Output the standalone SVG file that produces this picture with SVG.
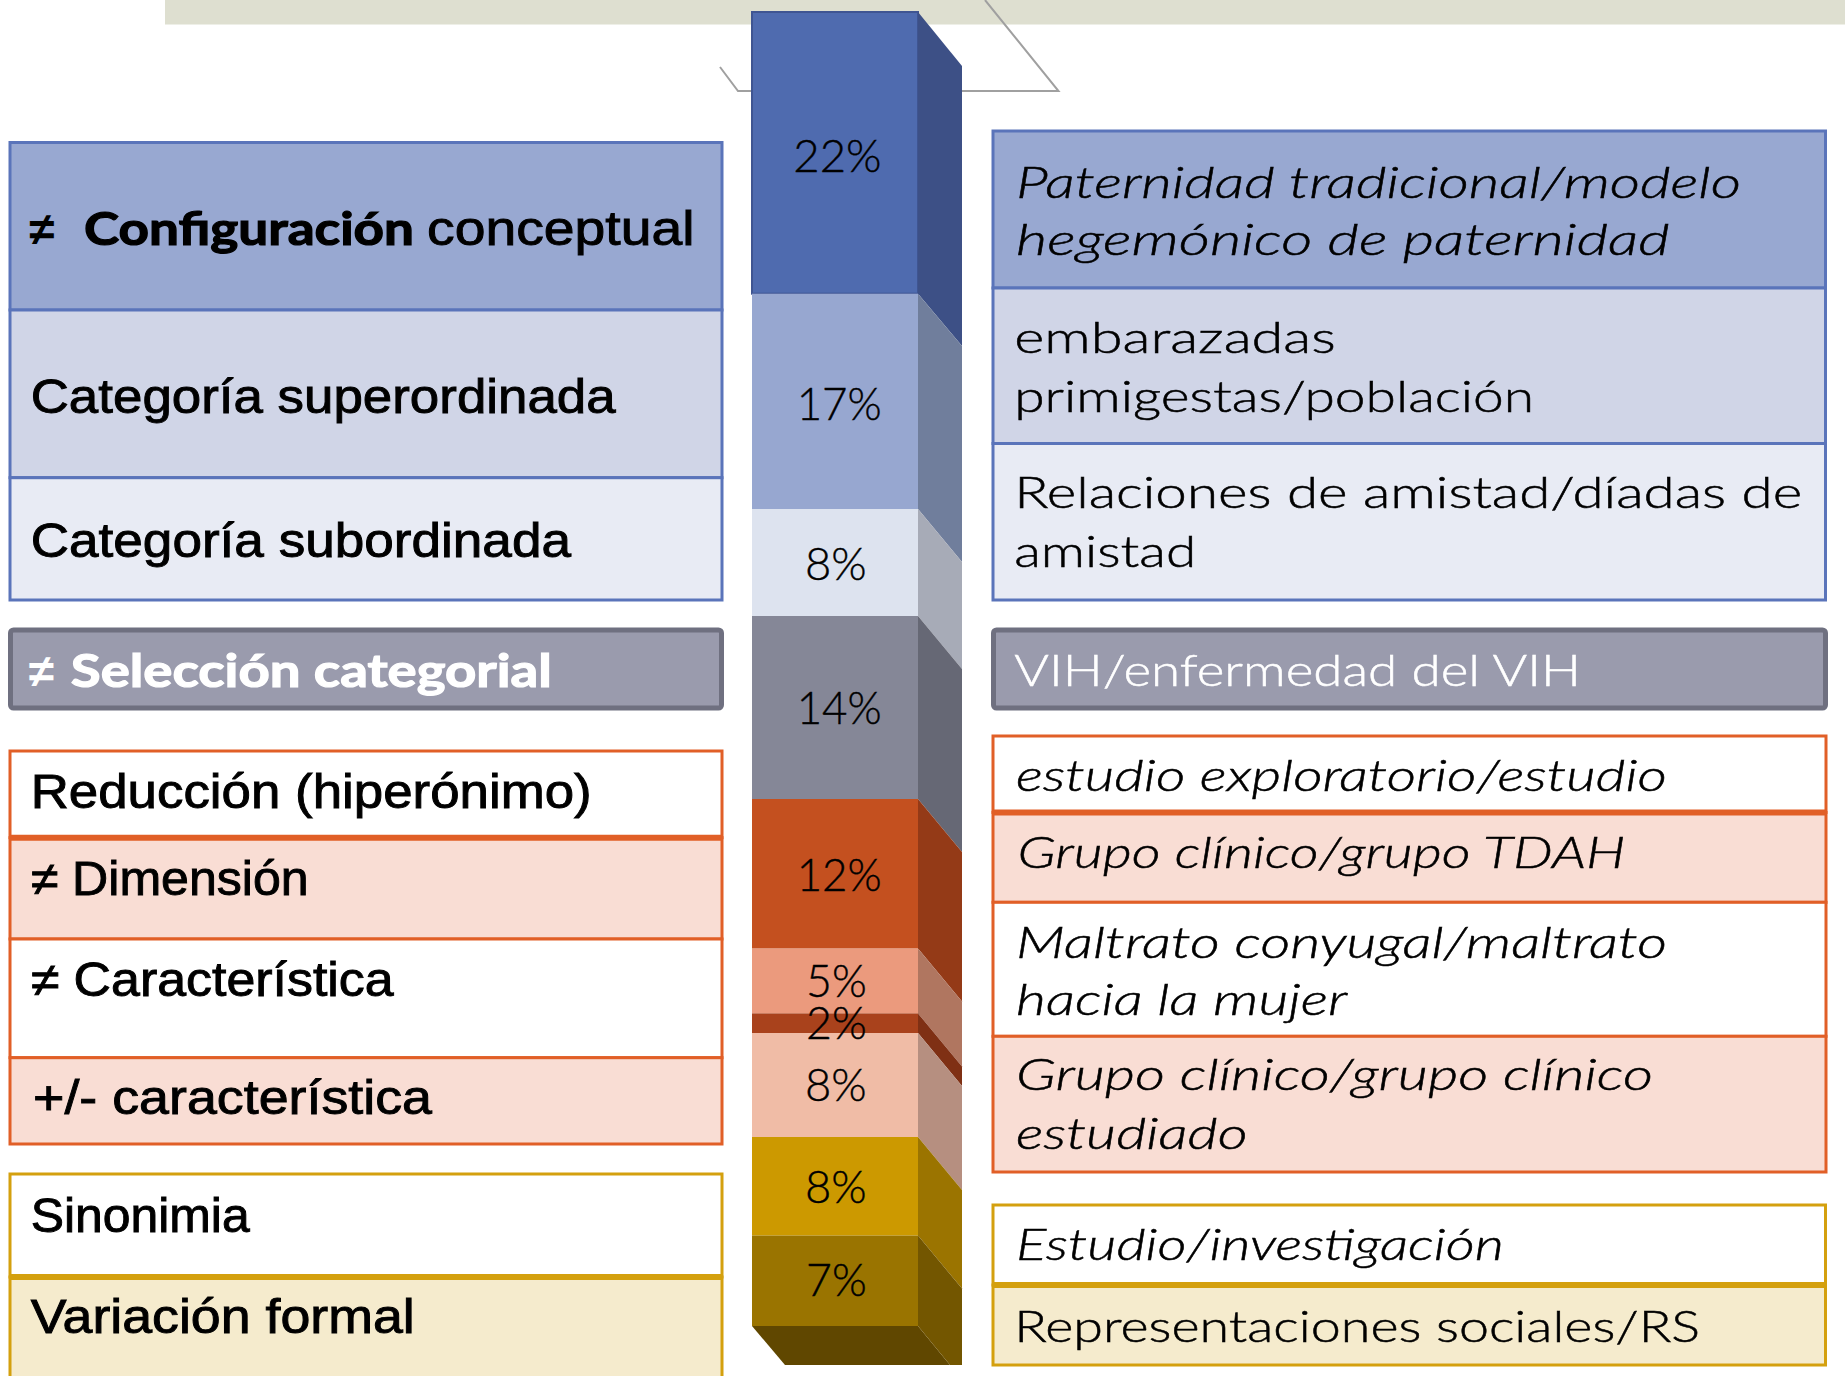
<svg xmlns="http://www.w3.org/2000/svg" width="1845" height="1376" viewBox="0 0 1845 1376">
<style>
.lbl{font-family:"Liberation Sans",Arial,sans-serif;font-size:47.5px;fill:#000;stroke:#000;stroke-width:0.9}
.bold{font-family:Lato,"Open Sans",sans-serif;font-weight:700;font-size:46px;stroke-width:1.2}
.neq{font-family:"Liberation Sans",Arial,sans-serif;font-weight:700;font-size:46px;fill:#000}
.rt{font-family:Lato,"Open Sans",sans-serif;font-weight:300;font-size:44px;fill:#000;stroke:#000;stroke-width:0.5}
.it{font-style:italic}
.wh{fill:#fff;stroke:#fff}
.pct{font-family:Lato,"Open Sans",sans-serif;font-size:46px;font-weight:300;fill:#000;stroke:#000;stroke-width:0.4}
.bl{stroke:#5a74ba;stroke-width:3}
.or{stroke:#e15f27;stroke-width:3}
.gd{stroke:#d4a00e;stroke-width:3}
.gr{fill:#9a9bad;stroke:#6f7080;stroke-width:5}
.thick-or{stroke:#e15f27;stroke-width:6}
.thick-gd{stroke:#d4a00e;stroke-width:6}
</style>
<rect width="1845" height="1376" fill="#fff"/>
<rect id="banner" x="165" y="0" width="1680" height="24.5" fill="#dedfd0"/>
<g id="connectors">
<polyline points="720,67 738,91 1058.5,91 985,0" fill="none" stroke="#a0a0a0" stroke-width="2"/>
</g>
<g id="column">
<g id="seg22"><rect x="752" y="12" width="166" height="281.7" fill="#4f6baf" stroke="#3f5592" stroke-width="2"/><polygon points="918,12 962,66 962,346 918,293.7" fill="#3d5086"/><text class="pct" x="793.3" y="172" textLength="88.3" lengthAdjust="spacingAndGlyphs">22%</text></g>
<g id="seg17"><rect x="752" y="293.7" width="166" height="215.3" fill="#97a7d0"/><polygon points="918,293.7 962,346 962,562 918,509" fill="#707e9c"/><text class="pct" x="796.7" y="420" textLength="85" lengthAdjust="spacingAndGlyphs">17%</text></g>
<g id="seg8a"><rect x="752" y="509" width="166" height="107" fill="#dde3ef"/><polygon points="918,509 962,562 962,669 918,616" fill="#a7abb7"/><text class="pct" x="805" y="580" textLength="61.7" lengthAdjust="spacingAndGlyphs">8%</text></g>
<g id="seg14"><rect x="752" y="616" width="166" height="183" fill="#858797"/><polygon points="918,616 962,669 962,852 918,799" fill="#666875"/><text class="pct" x="796.7" y="724" textLength="85" lengthAdjust="spacingAndGlyphs">14%</text></g>
<g id="seg12"><rect x="752" y="799" width="166" height="149.6" fill="#c4501f"/><polygon points="918,799 962,852 962,1001.6 918,948.6" fill="#943a17"/><text class="pct" x="796.7" y="890.7" textLength="85" lengthAdjust="spacingAndGlyphs">12%</text></g>
<g id="seg5"><rect x="752" y="948.6" width="166" height="64.8" fill="#eb9a7d"/><polygon points="918,948.6 962,1001.6 962,1066.4 918,1013.4" fill="#b07660"/></g>
<g id="seg2"><rect x="752" y="1013.4" width="166" height="19.6" fill="#a9421c"/><polygon points="918,1013.4 962,1066.4 962,1086 918,1033" fill="#7f3014"/></g>
<g id="seg8b"><rect x="752" y="1033" width="166" height="104" fill="#f0bca6"/><polygon points="918,1033 962,1086 962,1190 918,1137" fill="#b68f80"/></g>
<g id="seg8c"><rect x="752" y="1137" width="166" height="98.6" fill="#cc9900"/><polygon points="918,1137 962,1190 962,1288.6 918,1235.6" fill="#9b7400"/></g>
<g id="seg7"><rect x="752" y="1235.6" width="166" height="90.4" fill="#9a7400"/><polygon points="752,1326 918,1326 950,1365 785,1365" fill="#604700"/><polygon points="918,1235.6 962,1288.6 962,1365 950,1365 918,1326" fill="#735600"/></g>
<text class="pct" x="806" y="997" textLength="60.7" lengthAdjust="spacingAndGlyphs">5%</text>
<text class="pct" x="806" y="1039" textLength="60.7" lengthAdjust="spacingAndGlyphs">2%</text>
<text class="pct" x="805" y="1101" textLength="61.7" lengthAdjust="spacingAndGlyphs">8%</text>
<text class="pct" x="805" y="1203" textLength="61.7" lengthAdjust="spacingAndGlyphs">8%</text>
<text class="pct" x="806" y="1296" textLength="60.7" lengthAdjust="spacingAndGlyphs">7%</text>
</g>
<g id="left-config">
<rect x="10" y="142.5" width="712" height="167.5" fill="#98a8d1" class="bl"/>
<text class="neq" x="29" y="245">≠</text>
<text class="lbl bold" x="84" y="245" textLength="330" lengthAdjust="spacingAndGlyphs">Configuración</text>
<text class="lbl" x="427" y="245" textLength="267.5" lengthAdjust="spacingAndGlyphs">conceptual</text>
</g>
<g id="left-super">
<rect x="10" y="310" width="712" height="167.7" fill="#d0d5e7" class="bl"/>
<text class="lbl" x="30.7" y="413.3" textLength="585" lengthAdjust="spacingAndGlyphs">Categoría superordinada</text>
</g>
<g id="left-sub">
<rect x="10" y="477.7" width="712" height="122.3" fill="#e8ebf4" class="bl"/>
<text class="lbl" x="30.7" y="557.3" textLength="540.3" lengthAdjust="spacingAndGlyphs">Categoría subordinada</text>
</g>
<g id="left-seleccion">
<rect x="10.5" y="630" width="711" height="78" rx="3" class="gr"/>
<text class="neq" x="28.5" y="686.7" fill="#fff" style="fill:#fff">≠</text>
<text class="lbl bold wh" x="70.8" y="686.7" textLength="481" lengthAdjust="spacingAndGlyphs">Selección categorial</text>
</g>
<g id="left-reduccion">
<rect x="10" y="751" width="712" height="86.7" fill="#fff" class="or"/>
<text class="lbl" x="30.7" y="808" textLength="561" lengthAdjust="spacingAndGlyphs">Reducción (hiperónimo)</text>
</g>
<g id="left-dimension">
<rect x="10" y="837.7" width="712" height="101.3" fill="#f9ddd4" class="or"/>
<text class="lbl" x="30.7" y="895" textLength="278" lengthAdjust="spacingAndGlyphs">≠ Dimensión</text>
</g>
<g id="left-caracteristica">
<rect x="10" y="939" width="712" height="118.7" fill="#fff" class="or"/>
<text class="lbl" x="30.7" y="996" textLength="363" lengthAdjust="spacingAndGlyphs">≠ Característica</text>
</g>
<g id="left-masmenos">
<rect x="10" y="1057.7" width="712" height="86.3" fill="#f9ddd4" class="or"/>
<text class="lbl" x="33" y="1114" textLength="399" lengthAdjust="spacingAndGlyphs">+/- característica</text>
</g>
<line x1="10" y1="837.7" x2="722" y2="837.7" class="thick-or"/>
<g id="left-sinonimia">
<rect x="10" y="1174" width="712" height="103" fill="#fff" class="gd"/>
<text class="lbl" x="30.7" y="1231.7" textLength="219" lengthAdjust="spacingAndGlyphs">Sinonimia</text>
</g>
<g id="left-variacion">
<rect x="10" y="1277" width="712" height="110" fill="#f5ebcd" class="gd"/>
<text class="lbl" x="30.7" y="1333" textLength="384" lengthAdjust="spacingAndGlyphs">Variación formal</text>
</g>
<line x1="10" y1="1277" x2="722" y2="1277" class="thick-gd"/>
<g id="right-paternidad">
<rect x="993" y="131" width="832.5" height="157" fill="#98a8d1" class="bl"/>
<text class="rt it" x="1016" y="198.3" textLength="725" lengthAdjust="spacingAndGlyphs">Paternidad tradicional/modelo</text>
<text class="rt it" x="1016" y="255" textLength="653.6" lengthAdjust="spacingAndGlyphs">hegemónico de paternidad</text>
</g>
<g id="right-embarazadas">
<rect x="993" y="288" width="832.5" height="155.5" fill="#d0d5e7" class="bl"/>
<text class="rt" x="1014.2" y="353" textLength="321.6" lengthAdjust="spacingAndGlyphs">embarazadas</text>
<text class="rt" x="1014.2" y="411.7" textLength="520" lengthAdjust="spacingAndGlyphs">primigestas/población</text>
</g>
<g id="right-relaciones">
<rect x="993" y="443.5" width="832.5" height="156.5" fill="#e8ebf4" class="bl"/>
<text class="rt" x="1014.2" y="508" textLength="788" lengthAdjust="spacingAndGlyphs">Relaciones de amistad/díadas de</text>
<text class="rt" x="1014.2" y="566.7" textLength="182" lengthAdjust="spacingAndGlyphs">amistad</text>
</g>
<g id="right-vih">
<rect x="993.5" y="630" width="832" height="78" rx="3" class="gr"/>
<text class="rt wh" x="1014.2" y="686" textLength="566.8" lengthAdjust="spacingAndGlyphs">VIH/enfermedad del VIH</text>
</g>
<g id="right-estudio">
<rect x="993" y="736" width="833" height="76.4" fill="#fff" class="or"/>
<text class="rt it" x="1015.9" y="791.3" textLength="651" lengthAdjust="spacingAndGlyphs">estudio exploratorio/estudio</text>
</g>
<g id="right-tdah">
<rect x="993" y="812.4" width="833" height="89.9" fill="#f9ddd4" class="or"/>
<text class="rt it" x="1017.5" y="868" textLength="608" lengthAdjust="spacingAndGlyphs">Grupo clínico/grupo TDAH</text>
</g>
<g id="right-maltrato">
<rect x="993" y="902.3" width="833" height="134" fill="#fff" class="or"/>
<text class="rt it" x="1016" y="957.8" textLength="651" lengthAdjust="spacingAndGlyphs">Maltrato conyugal/maltrato</text>
<text class="rt it" x="1016" y="1015.2" textLength="331" lengthAdjust="spacingAndGlyphs">hacia la mujer</text>
</g>
<g id="right-grupo">
<rect x="993" y="1036.3" width="833" height="135.7" fill="#f9ddd4" class="or"/>
<text class="rt it" x="1016" y="1089.9" textLength="637" lengthAdjust="spacingAndGlyphs">Grupo clínico/grupo clínico</text>
<text class="rt it" x="1016" y="1149" textLength="231.6" lengthAdjust="spacingAndGlyphs">estudiado</text>
</g>
<line x1="993" y1="812.4" x2="1826" y2="812.4" class="thick-or"/>
<g id="right-investigacion">
<rect x="993" y="1205" width="832.5" height="80" fill="#fff" class="gd"/>
<text class="rt it" x="1015.9" y="1260" textLength="488" lengthAdjust="spacingAndGlyphs">Estudio/investigación</text>
</g>
<g id="right-rs">
<rect x="993" y="1285" width="832.5" height="80" fill="#f5ebcd" class="gd"/>
<text class="rt" x="1014.2" y="1341.7" textLength="686" lengthAdjust="spacingAndGlyphs">Representaciones sociales/RS</text>
</g>
<line x1="993" y1="1285" x2="1825.5" y2="1285" class="thick-gd"/>
</svg>
